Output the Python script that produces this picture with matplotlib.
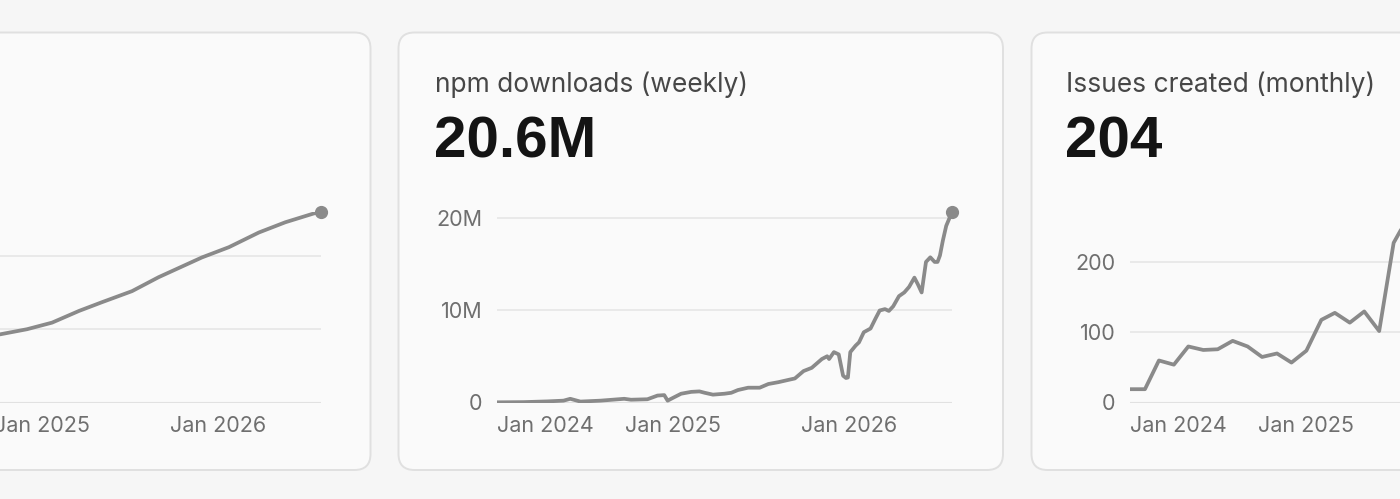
import matplotlib
matplotlib.use("Agg")
import matplotlib.pyplot as plt
import pandas as pd
from matplotlib.patches import FancyBboxPatch
from matplotlib.ticker import FuncFormatter

plt.rcParams["font.family"] = ["Inter", "DejaVu Sans"]

# left card: only the right part of its chart is inside the frame
left_dates = ["2024-10-05", "2024-11-30", "2025-01-21", "2025-03-18", "2025-05-05",
              "2025-07-06", "2025-08-30", "2025-11-28", "2026-01-23", "2026-03-26",
              "2026-05-20", "2026-07-18", "2026-08-02"]
left_values = [0.93, 1.00, 1.09, 1.25, 1.37, 1.52, 1.71, 1.98, 2.12, 2.32, 2.46, 2.58, 2.60]

# npm downloads (weekly), millions
npm_dates = ["2024-01-01", "2024-02-25", "2024-04-15", "2024-05-18", "2024-06-01",
             "2024-06-22", "2024-08-03", "2024-09-21", "2024-10-05", "2024-11-08",
             "2024-11-29", "2024-12-13", "2024-12-20", "2024-12-31", "2025-01-17",
             "2025-02-07", "2025-02-24", "2025-03-07", "2025-03-24", "2025-04-17",
             "2025-05-01", "2025-05-15", "2025-06-05", "2025-06-29", "2025-07-17",
             "2025-08-07", "2025-08-28", "2025-09-10", "2025-09-28", "2025-10-15",
             "2025-11-05", "2025-11-16", "2025-11-20", "2025-11-30", "2025-12-10",
             "2025-12-19", "2025-12-25", "2025-12-29", "2026-01-03", "2026-01-14",
             "2026-01-21", "2026-01-31", "2026-02-14", "2026-02-24", "2026-03-05",
             "2026-03-16", "2026-03-24", "2026-04-02", "2026-04-14", "2026-04-25",
             "2026-05-05", "2026-05-16", "2026-05-23", "2026-05-31", "2026-06-09",
             "2026-06-18", "2026-06-27", "2026-07-03", "2026-07-08", "2026-07-14",
             "2026-07-21", "2026-08-02"]
npm_values = [0.02, 0.04, 0.12, 0.20, 0.40, 0.10, 0.20, 0.40, 0.30, 0.35,
              0.75, 0.80, 0.20, 0.50, 0.95, 1.15, 1.20, 1.05, 0.85, 0.95,
              1.05, 1.35, 1.60, 1.60, 2.00, 2.20, 2.45, 2.60, 3.40, 3.75,
              4.70, 5.00, 4.70, 5.45, 5.20, 2.90, 2.65, 2.70, 5.45, 6.15,
              6.50, 7.60, 8.00, 9.05, 9.95, 10.1, 9.90, 10.4, 11.5, 11.9,
              12.5, 13.5, 12.8, 11.9, 15.2, 15.7, 15.2, 15.2, 15.9, 17.5,
              19.1, 20.6]

# issues created (monthly), only the months inside the frame
issue_months = pd.date_range("2024-01-01", periods=20, freq="MS")
issue_values = [19, 19, 60, 54, 80, 75, 76, 88, 80, 65, 70, 57,
                74, 118, 128, 114, 130, 102, 228, 266]

x_start, x_end = pd.Timestamp("2024-01-01"), pd.Timestamp("2026-08-02")
year_ticks = pd.to_datetime(["2024-01-01", "2025-01-01", "2026-01-01"])
year_labels = ["Jan 2024", "Jan 2025", "Jan 2026"]

W, H = 1400, 499
BG = "#f6f6f6"
CARD = "#fafafa"
LINE = "#8a8a8a"
TICK = "#6f6f6f"

fig = plt.figure(figsize=(W / 100, H / 100), dpi=100, facecolor=BG)

bg = fig.add_axes([0, 0, 1, 1])
bg.set_xlim(0, W)
bg.set_ylim(H, 0)
bg.axis("off")
for cx in [-234, 398.5, 1031.5]:
    bg.add_patch(FancyBboxPatch((cx, 32.5), 604.5, 437.5,
                                boxstyle="round,pad=0,rounding_size=16",
                                fc=CARD, ec="#e0e0e0", lw=1.4))

cards = [(435, "npm downloads (weekly)", "20.6M"),
         (1066, "Issues created (monthly)", "204")]
for tx, title, big in cards:
    bg.text(tx, 92, title, fontsize=19, color="#474747", va="baseline", ha="left")
    bg.text(tx - 1, 157, big, fontsize=42, fontweight="bold", color="#141414",
            va="baseline", ha="left", family=["Liberation Sans", "DejaVu Sans"])


def chart(x0, dates, values, ylim, yticks, fmt):
    ax = fig.add_axes([x0 / W, (H - 402.5) / H, 455 / W, 190.5 / H])
    ax.patch.set_visible(False)
    for s in ax.spines.values():
        s.set_visible(False)
    d = pd.to_datetime(dates)
    ax.plot(d, values, color=LINE, lw=2.7, solid_joinstyle="round",
            solid_capstyle="round", zorder=3)
    ax.plot(d[-1:], values[-1:], "o", ms=8.5, color=LINE, clip_on=False, zorder=4)
    ax.set_xlim(x_start, x_end)
    ax.set_ylim(*ylim)
    ax.set_yticks(yticks)
    ax.yaxis.set_major_formatter(FuncFormatter(fmt))
    ax.grid(axis="y", color="#e6e6e6", lw=1.2, zorder=0)
    ax.axhline(0, color="#cdcdcd", lw=1.5, zorder=1)
    ax.set_xticks(year_ticks, year_labels)
    ax.get_xticklabels()[0].set_horizontalalignment("left")
    ax.tick_params(length=0, labelsize=15.5, labelcolor=TICK)
    ax.tick_params(axis="x", pad=9.5)
    ax.tick_params(axis="y", pad=10.5)
    return ax


chart(-134, left_dates, left_values, (0, 2.6), [0, 1, 2], lambda v, p: "")
chart(497, npm_dates, [v * 1e6 for v in npm_values], (0, 20.6e6), [0, 10e6, 20e6],
      lambda v, p: "0" if v == 0 else f"{v / 1e6:.0f}M")
chart(1130, list(issue_months.strftime("%Y-%m-%d")), issue_values, (0, 272),
      [0, 100, 200], lambda v, p: f"{v:.0f}")

fig.savefig("out.png", dpi=100, facecolor=BG)
